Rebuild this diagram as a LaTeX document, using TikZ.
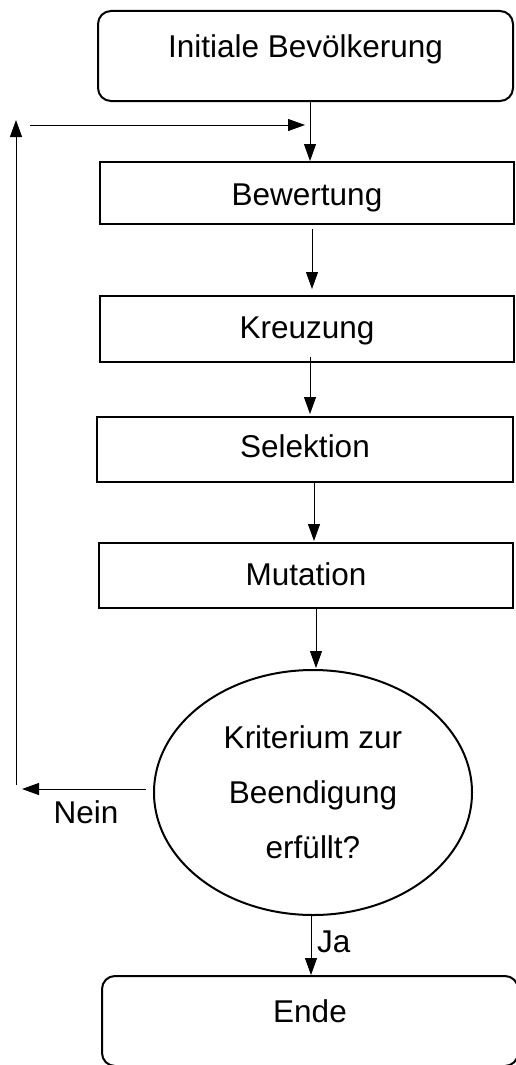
\documentclass[tikz,border=0pt]{standalone}
\usepackage{fontspec}
\setmainfont{Liberation Sans}
\usetikzlibrary{arrows.meta,shapes.geometric}
\begin{document}
\begin{tikzpicture}[x=1pt,y=-1pt,
  font=\fontsize{31.5}{55}\selectfont,
  box/.style={draw,line width=2pt,inner sep=0pt,text height=22pt,text depth=0pt},
  rbox/.style={box,rounded corners=13pt,text depth=20pt},
  decision/.style={draw,ellipse,line width=2pt,inner sep=0pt,align=center,
    minimum width=318pt,minimum height=245pt,text height=132pt,text depth=1pt},
  conn/.style={line width=1pt,-{Triangle[length=17pt,width=12pt]}},
  lbl/.style={inner sep=0pt}]
\useasboundingbox (0,0) rectangle (515,1065);
\node[rbox,minimum width=415pt,minimum height=90pt] (top) at (305.5,56) {Initiale Bevölkerung};
\node[box,minimum width=414pt,minimum height=62pt,text height=24pt] (bew) at (307,193) {Bewertung};
\node[box,minimum width=414pt,minimum height=66pt,text depth=4pt] (kre) at (307,329) {Kreuzung};
\node[box,minimum width=416pt,minimum height=65pt,text depth=7pt] (sel) at (305,449.5) {Selektion};
\node[box,minimum width=414pt,minimum height=65pt,text depth=3pt] (mut) at (306,575.5) {Mutation};
\node[decision] (crit) at (313,792.5) {Kriterium zur\\Beendigung\\erfüllt?};
\node[rbox,minimum width=416pt,minimum height=90pt] (ende) at (310,1021) {Ende};
\node[lbl,anchor=base] (nein) at (86,823) {Nein};
\node[lbl,anchor=base west] (ja) at (317,952) {Ja};
% main flow
\draw[conn] ([xshift=4.5pt]top.south) -- ([xshift=3pt]bew.north);
\draw[conn,shorten <=4pt,shorten >=6pt] ([xshift=5pt]bew.south) -- ([xshift=5pt]kre.north);
\draw[conn,shorten <=-6pt,shorten >=2pt] ([xshift=3pt]kre.south) -- ([xshift=5pt]sel.north);
\draw[conn,shorten >=1pt] ([xshift=9pt]sel.south) -- ([xshift=8pt]mut.north);
\draw[conn,shorten >=1pt] ([xshift=10pt]mut.south) -- ([xshift=3pt]crit.north);
\draw[conn] ([xshift=-2pt]crit.south) -- ([xshift=1pt]ende.north);
% loop back
\coordinate (n1) at (22,789);
\coordinate (l1) at (16,785);
\coordinate (l2) at (16,120);
\coordinate (h1) at (30,125);
\coordinate (h2) at (305,125);
\draw[conn,shorten <=7pt] (crit.west |- n1) -- (n1);
\draw[conn] (l1) -- (l2);
\draw[conn] (h1) -- (h2);
\end{tikzpicture}
\end{document}
